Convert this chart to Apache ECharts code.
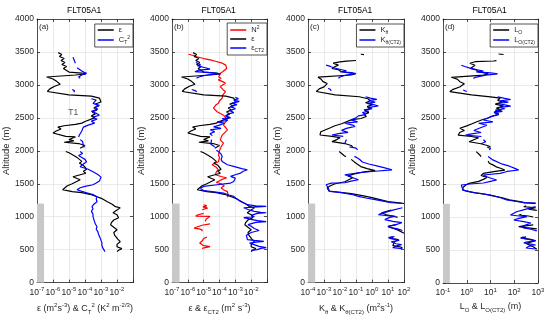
<!DOCTYPE html>
<html><head><meta charset="utf-8">
<script src="https://cdn.jsdelivr.net/npm/echarts@6/dist/echarts.min.js"></script>
<style>html,body{margin:0;padding:0;background:#fff}#c{width:550px;height:320px}</style>
</head><body><div id="c"></div>
<script>
// Profiles: [altitude (m), log10(value)]; null = gap in the trace
const epsLog = [[3490,-5.67],[3460,-5.45],[3430,-5.6],[3400,-5.3],[3370,-5.5],[3340,-5.25],[3310,-5.45],[3280,-5.15],[3250,-5.35],[3220,-5.4],[3195,-5.0],[3180,-4.2],[3165,-3.95],[3150,-4.6],[3120,-6.4],[3090,-6.0],[3050,-5.75],[3010,-5.55],[2980,-5.9],[2940,-6.2],[2900,-6.35],[2870,-6.45],[2850,-5.0],[2830,-3.6],[2800,-3.1],[2770,-3.2],[2740,-3.0],[2710,-3.35],[2680,-3.15],[2650,-3.45],[2620,-3.25],[2590,-3.55],[2560,-3.35],[2530,-3.6],[2500,-3.4],[2470,-3.5],[2445,-4.0],[2420,-4.2],[2400,-4.6],[2380,-5.3],[2360,-5.7],[2330,-5.5],[2300,-5.8],[2270,-6.0],[2240,-5.95],[2220,-5.2],[2210,-4.6],[2190,-4.8],[2170,-5.0],[2150,-4.7],[2130,-5.3],[2110,-4.4],[2080,-4.0],[2060,-3.9],[2040,-4.3],null,[1990,-5.2],[1970,-5.0],[1950,-4.9],[1930,-4.7],[1900,-4.5],[1870,-4.4],[1840,-4.2],[1810,-4.35],[1780,-4.1],[1750,-4.2],[1720,-3.9],[1690,-4.1],[1660,-3.95],[1636,-4.0],[1606,-4.75],[1580,-4.5],[1560,-4.3],[1530,-4.35],[1500,-4.8],[1470,-5.1],[1440,-5.25],[1410,-5.4],[1395,-5.37],[1380,-4.8],[1364,-4.2],[1340,-3.7],[1303,-3.25],[1270,-2.9],[1227,-2.6],[1190,-2.3],[1152,-2.1],[1136,-1.8],[1100,-2.0],[1061,-2.25],[1030,-2.0],[985,-1.9],[950,-2.2],[910,-2.35],[879,-2.4],[840,-2.2],[803,-2.0],[760,-2.2],[720,-2.15],[697,-2.1],[660,-1.95],[621,-1.8],[580,-2.0],[545,-2.0],[515,-1.7],[490,-1.9],[470,-2.0]];

const ct2Log = [[3420,-4.75],[3390,-4.7],[3360,-4.65],[3330,-4.6],null,[3260,-4.5],[3230,-4.4],[3210,-4.2],[3190,-4.05],[3175,-3.9],[3150,-4.2],[3120,-4.4],[3100,-4.3],null,[2930,-4.8],[2910,-4.65],[2890,-4.7],null,[2790,-3.6],[2770,-3.3],[2745,-3.2],[2720,-3.5],[2690,-3.1],[2660,-3.4],[2630,-3.2],[2600,-3.6],[2570,-3.3],[2540,-3.1],[2510,-3.5],[2480,-3.25],[2450,-3.6],[2420,-3.4],[2390,-3.8],[2360,-4.1],[2330,-4.0],[2300,-4.2],[2270,-4.1],[2240,-4.35],[2210,-4.4],null,[2170,-4.3],[2140,-4.15],[2110,-4.25],[2080,-4.1],[2050,-4.05],null,[1990,-4.3],[1960,-4.15],[1930,-4.4],[1900,-4.2],[1870,-4.0],[1833,-3.9],[1800,-4.1],[1758,-4.3],[1720,-3.8],[1682,-3.5],[1640,-3.2],[1600,-3.0],[1570,-2.9],[1540,-3.1],[1510,-3.3],[1485,-3.5],[1460,-4.0],[1440,-4.3],[1409,-4.5],[1385,-4.2],[1364,-3.9],[1335,-3.5],[1303,-3.25],[1270,-3.3],[1227,-3.25],[1190,-3.45],[1152,-3.56],[1120,-3.5],[1080,-3.6],[1040,-3.5],[1000,-3.5],[960,-3.45],[924,-3.4],[890,-3.35],[848,-3.25],[810,-3.3],[773,-3.2],[730,-3.15],[682,-3.06],[640,-3.0],[606,-2.94],[570,-2.95],[530,-2.9],[500,-2.85],[470,-2.75]];

const n2Log = [[3465,-5.96],[3450,-5.7],[3427,-5.43],[3400,-5.0],[3380,-4.58],[3355,-4.2],[3330,-3.83],[3300,-3.6],[3280,-3.5],[3250,-3.55],[3227,-3.6],[3200,-3.8],[3177,-3.94],[3150,-3.85],[3120,-4.05],[3100,-3.9],[3077,-4.07],[3050,-3.8],[3026,-3.62],[3000,-3.8],[2975,-3.95],[2950,-3.94],[2920,-3.75],[2900,-3.62],[2874,-3.65],[2840,-3.8],[2820,-3.9],[2798,-3.83],[2760,-4.0],[2723,-4.07],[2690,-4.25],[2647,-4.38],[2620,-4.3],[2592,-4.15],[2565,-3.95],[2540,-3.75],[2500,-3.6],[2466,-3.5],[2430,-3.65],[2390,-3.75],[2350,-3.6],[2314,-3.5],[2280,-3.65],[2238,-3.83],[2200,-3.9],[2163,-3.94],[2140,-3.85],[2117,-3.75],[2080,-3.85],[2040,-3.94],[2000,-4.0],[1970,-4.05],[1935,-4.07],[1900,-4.0],[1870,-4.1],[1833,-4.07],[1810,-4.3],[1788,-4.47],[1750,-4.2],[1712,-4.07],[1680,-4.2],[1650,-4.3],[1636,-4.26],[1610,-3.9],[1591,-3.55],[1570,-3.8],[1545,-4.0],[1520,-4.2],[1500,-3.9],[1470,-3.7],[1440,-3.9],[1410,-3.75],[1380,-3.5],[1350,-3.4],[1320,-3.45],[1295,-3.5],null,[1180,-5.0],[1165,-4.8],[1150,-5.05],[1130,-4.75],[1106,-5.1],null,[1050,-5.0],[1030,-5.35],[1010,-5.5],[1005,-4.6],[990,-4.7],[960,-4.85],[929,-4.9],null,[890,-4.6],[870,-5.1],[854,-5.1],[828,-5.6],[815,-5.3],[800,-5.1],[778,-5.1],null,[690,-4.8],[670,-5.0],[651,-4.9],[630,-5.1],[600,-5.25],[576,-5.2],[560,-5.0],[545,-4.6],[530,-4.9],[520,-5.1]];

const epsCt2Log = [[3340,-5.5],[3310,-5.2],[3290,-5.4],[3260,-4.9],[3240,-4.6],[3225,-5.3],[3200,-5.55],[3185,-4.6],[3170,-4.0],[3150,-4.8],[3120,-5.3],[3100,-5.45],null,[2930,-5.75],[2910,-5.5],[2890,-5.45],null,[2810,-3.0],[2790,-2.8],[2770,-3.1],[2750,-2.75],[2720,-3.2],[2700,-2.9],[2670,-3.3],[2640,-3.0],[2610,-3.35],[2580,-3.1],[2560,-3.45],[2530,-3.6],[2500,-3.3],[2490,-3.83],[2460,-3.5],[2440,-4.15],[2420,-3.7],[2390,-4.0],[2364,-4.37],[2340,-3.9],[2318,-4.58],[2290,-4.3],[2260,-4.6],[2230,-4.45],null,[2170,-4.5],[2140,-4.4],[2100,-4.55],[2060,-4.3],null,[2010,-4.2],[1990,-4.07],[1950,-3.9],[1914,-3.83],[1870,-3.9],[1838,-3.83],[1788,-3.5],[1760,-3.05],[1730,-2.6],[1712,-2.24],[1690,-2.5],[1662,-2.67],[1636,-3.0],[1611,-3.3],[1585,-3.0],[1561,-2.88],[1535,-3.1],[1510,-3.3],[1485,-4.15],[1460,-5.0],[1430,-5.2],[1409,-5.3],[1395,-5.0],[1384,-4.58],[1359,-3.75],[1330,-3.4],[1308,-3.1],[1270,-2.9],[1232,-2.67],[1200,-2.4],[1182,-2.24],[1165,-1.72],[1158,-1.05],[1150,-1.6],[1136,-2.47],[1110,-2.2],[1080,-1.8],[1065,-1.4],[1060,-1.05],[1050,-1.6],[1020,-2.0],[1000,-1.8],[985,-2.47],[960,-2.0],[940,-1.6],[925,-1.05],[915,-1.7],[880,-2.2],[854,-2.0],[820,-1.8],[790,-1.5],[778,-1.5],[760,-2.0],[720,-2.3],[690,-2.2],[651,-2.24],[640,-1.8],[626,-1.2],[615,-1.7],[600,-2.1],[576,-2.0],[550,-1.5],[530,-1.05],[520,-1.4],[500,-1.6],[490,-2.0]];

const kLog = [[3465,-0.7],[3460,-0.5],null,[3370,-1.0],[3360,-1.6],[3350,-2.0],[3330,-2.43],[3300,-2.1],[3280,-2.3],[3250,-2.5],[3230,-2.1],[3200,-1.92],[3180,-1.3],[3167,-1.06],[3150,-1.3],[3117,-3.37],[3090,-3.2],[3050,-3.06],[3020,-2.8],[3000,-2.74],[2970,-3.0],[2940,-3.3],[2900,-3.48],[2870,-3.5],[2850,-2.3],[2820,-0.8],[2790,-0.25],[2760,-0.1],[2730,-0.4],[2700,0.05],[2670,-0.3],[2640,-0.1],[2610,-0.45],[2580,-0.2],[2550,-0.5],[2520,-0.35],[2490,-0.7],[2470,-1.3],[2440,-1.6],[2410,-1.9],[2380,-2.32],[2350,-2.6],[2320,-2.9],[2290,-3.2],[2260,-3.1],[2240,-3.25],[2220,-2.5],[2200,-2.0],[2170,-2.2],[2140,-2.5],[2110,-1.7],[2080,-1.3],[2060,-1.2],null,[1990,-2.05],[1960,-1.9],[1930,-1.75],[1910,-1.63],null,[1870,-1.3],[1840,-1.2],[1810,-1.0],[1790,-0.9],[1760,-0.7],[1730,-0.3],[1700,0.2],[1680,-0.5],[1650,-1.1],[1620,-1.5],[1590,-1.2],[1560,-1.3],[1530,-1.7],[1500,-2.3],[1470,-2.6],[1440,-2.8],[1410,-2.9],[1390,-2.7],[1370,-2.0],[1350,-1.3],[1320,-0.6],[1290,0.0],[1260,0.5],[1230,1.0],[1210,1.7],[1200,2.0],null,[1100,1.2],[1060,0.6],[1030,0.9],[1010,1.3],[990,1.6],null,[880,1.5],[850,1.0],[833,1.2],[800,1.6],[773,1.53],[750,2.0],null,[700,1.4],[670,1.1],[651,1.66],[620,1.4],[590,1.5],[560,1.3],[540,1.8],[525,1.9]];

const kCt2Log = [[3300,-2.87],[3280,-2.6],[3260,-2.4],[3250,-2.32],[3230,-1.9],[3212,-1.6],[3200,-2.0],[3185,-1.3],[3170,-1.0],[3150,-1.6],[3120,-2.0],[3100,-2.1],null,[2950,-2.74],[2930,-2.6],[2910,-2.55],null,[2820,-0.4],[2800,-0.1],[2780,0.3],[2760,-0.2],[2740,0.2],[2720,-0.3],[2700,0.1],[2680,0.4],[2660,-0.2],[2640,0.0],[2620,-0.5],[2600,-0.2],[2580,-0.6],[2550,-0.4],[2530,-0.85],[2500,-1.0],[2470,-1.3],[2440,-0.9],[2420,-1.7],[2390,-1.2],[2370,-1.06],[2340,-1.6],[2310,-1.9],[2280,-1.5],[2260,-2.1],[2240,-2.5],[2220,-1.8],null,[2170,-1.6],[2140,-1.5],[2110,-1.7],null,[2060,-1.4],[2040,-1.0],[2015,-0.9],null,[1915,-1.1],[1890,-0.9],[1865,-0.75],[1830,-0.6],[1800,-0.2],[1770,0.3],[1740,0.8],[1712,1.25],[1690,0.2],[1667,-0.85],[1636,-1.7],[1610,-1.4],[1591,-1.3],[1561,-0.85],[1540,-1.3],[1515,-1.7],[1510,-2.55],[1485,-2.87],[1460,-2.8],[1440,-2.74],[1410,-2.7],[1384,-2.65],[1364,-1.9],[1340,-1.3],[1308,-0.85],[1280,-0.3],[1258,0.2],[1235,0.7],[1212,1.2],[1205,1.85],null,[1136,1.9],[1100,1.3],[1050,0.6],[1030,0.4],[1015,1.0],[1005,1.45],[990,1.1],[955,0.8],[930,1.3],[909,1.87],[880,1.5],[855,1.0],[833,1.2],[815,1.6],[790,1.9],null,[700,1.3],[682,1.03],[660,1.4],[640,1.7],[620,1.2],[606,1.1],[590,1.5],[576,1.85],[555,1.5],[530,1.3],[515,1.9]];

const loLog = [[3470,1.34],[3462,1.55],null,[3370,1.25],[3364,1.13],[3353,0.35],[3330,0.13],[3300,0.35],[3280,0.28],[3250,0.15],[3230,0.4],[3200,0.49],[3180,0.8],[3167,0.91],[3150,0.7],[3117,-0.65],[3090,-0.4],[3050,-0.29],[3020,-0.1],[3000,-0.08],[2970,-0.3],[2930,-0.6],[2900,-0.71],[2870,-0.7],[2850,0.2],[2820,1.0],[2800,1.41],[2770,1.3],[2740,1.5],[2710,1.2],[2680,1.55],[2650,1.25],[2620,1.45],[2590,1.15],[2560,1.35],[2530,1.1],[2500,0.9],[2470,0.62],[2440,0.4],[2410,0.2],[2380,0.0],[2345,-0.29],[2310,-0.1],[2280,-0.3],[2240,-0.36],[2220,0.2],[2200,0.5],[2170,0.3],[2140,0.1],[2110,0.6],[2080,0.9],[2060,1.0],null,[1990,0.4],[1965,0.45],[1940,0.55],[1915,0.6],null,[1850,0.9],[1815,0.95],[1790,1.1],[1760,1.24],[1735,1.45],[1710,1.6],[1690,1.2],[1660,0.7],[1630,0.6],[1600,0.85],[1570,0.7],[1540,0.5],[1510,0.1],[1480,-0.05],[1450,-0.15],[1410,-0.18],[1395,-0.05],[1370,0.3],[1350,0.7],[1320,1.1],[1290,1.5],[1260,1.8],[1230,2.3],[1215,2.45],[1205,2.9],null,[1170,2.5],[1156,2.4],[1140,2.9],[1120,2.6],[1100,2.95],null,[1040,2.3],[1030,2.19],[1015,2.6],[1000,2.8],null,[880,2.8],[854,2.19],[840,2.5],[820,2.95],null,[700,2.5],[680,2.3],[660,2.7],[640,2.9],[600,2.5],[576,2.5],[550,2.8],[525,2.75],[510,2.95]];

const loCt2Log = [[3300,-0.23],[3280,-0.08],[3255,0.13],[3230,0.45],[3212,0.7],[3200,0.4],[3185,1.0],[3170,1.3],[3150,0.8],[3120,0.4],[3100,0.28],null,[2925,-0.15],[2910,-0.05],[2900,0.0],null,[2820,1.3],[2800,1.55],[2780,1.85],[2760,1.4],[2740,1.75],[2720,1.3],[2700,1.6],[2680,1.85],[2660,1.4],[2640,1.6],[2620,1.2],[2600,1.5],[2580,1.15],[2550,1.35],[2520,1.0],[2500,1.05],[2470,0.7],[2440,1.1],[2420,0.5],[2390,0.85],[2370,0.91],[2340,0.5],[2310,0.3],[2280,0.6],[2260,0.2],[2240,-0.05],[2220,0.62],null,[2170,0.7],[2140,0.8],[2110,0.6],null,[2060,0.85],[2040,1.0],[2015,0.95],null,[1915,0.9],[1890,1.0],[1865,1.1],[1840,1.17],[1800,1.5],[1770,1.8],[1740,2.0],[1712,2.19],[1690,1.7],[1662,1.41],[1636,0.7],[1610,0.85],[1591,0.99],[1561,1.26],[1540,1.0],[1515,0.7],[1500,0.13],[1485,-0.23],[1450,-0.2],[1409,-0.15],[1385,0.1],[1364,0.4],[1333,1.0],[1295,1.4],[1258,1.68],[1235,2.1],[1217,2.4],[1212,2.9],null,[1156,2.9],[1120,2.5],[1080,2.1],[1030,1.84],[1015,2.2],[1005,2.53],[980,2.2],[955,1.98],[930,2.4],[909,2.7],[880,2.5],[855,2.3],[833,2.4],[815,2.7],[790,2.95],null,[700,2.4],[682,2.26],[660,2.6],[640,2.9],[620,2.5],[606,2.4],[590,2.7],[576,2.9],[555,2.6],[530,2.5],[515,2.9]];

// axis ranges (log10 decades) and annotations
const xRangesLog = [[-7,-1],[-7,-1],[-4,2],[-1,3]];
const altRange = [0, 4000];
const altTicks = 500;
const shadeAlt = [0, 1200];
const shadeXLog = [[-7,-6.56],[-7,-6.52],[-4,-3.55],[-1,-0.71]];
const t1Label = [[2580,-4.73]];
const panelTitles = ['FLT05A1','FLT05A1','FLT05A1','FLT05A1'];
const panelTags = ['(a)','(b)','(c)','(d)'];

const AX = '#262626', GRIDC = '#e4e4e4';
const P = v => Math.pow(10, v);
const pts = arr => arr.map(p => p ? [P(p[1]), p[0]] : ['-','-']);

const gridsPx = [{left:37,width:96},{left:172,width:95},{left:308,width:96},{left:443,width:95}];
const axisNames = [
 '{n|ε (m}{p|2}{n|s}{p|-3}{n|) & C}{b|T}{p|2}{n| (K}{p|2}{n| m}{p|-2/3}{n|)}',
 '{n|ε & ε}{b|CT2}{n| (m}{p|2}{n| s}{p|-3}{n|)}',
 '{n|K}{b|θ}{n| & K}{b|θ(CT2)}{n| (m}{p|2}{n|s}{p|-1}{n|)}',
 '{n|L}{b|O}{n| & L}{b|O(CT2)}{n| (m)}'
];
const LEG = {
 'ε':'{n|ε}', 'C_T²':'{n|C}{b|T}{p|2}', 'N²':'{n|N}{p|2}', 'ε_CT2':'{n|ε}{b|CT2}',
 'K_θ':'{n|K}{b|θ}', 'K_θ(CT2)':'{n|K}{b|θ(CT2)}', 'L_O':'{n|L}{b|O}', 'L_O(CT2)':'{n|L}{b|O(CT2)}'
};
const hideLast = [true,true,false,false];

const xAxis = [], yAxis = [], grid = [], title = [];
gridsPx.forEach((g,i) => {
  grid.push({left:g.left, top:19, width:g.width, height:264});
  const [a,b] = xRangesLog[i];
  xAxis.push({
    type:'log', logBase:10, gridIndex:i, min:P(a), max:P(b), splitNumber:b-a, position:'bottom',
    axisLine:{show:true, onZero:false, lineStyle:{color:AX,width:0.8}},
    axisTick:{show:true, inside:true, length:3, lineStyle:{color:AX,width:0.8}},
    axisLabel:{margin:4, color:AX, showMinLabel:true, showMaxLabel:true,
      formatter: v => { const e = Math.round(Math.log10(v)); if (hideLast[i] && e === b) return ''; return '{b|10}{s|' + e + '}'; },
      rich:{b:{fontSize:8.5, color:AX, lineHeight:12, fontFamily:'Liberation Sans'}, s:{fontSize:6, color:AX, verticalAlign:'top', fontFamily:'Liberation Sans'}}},
    splitLine:{show:true, lineStyle:{color:GRIDC,width:0.8}},
    name:axisNames[i], nameLocation:'middle', nameGap:17,
    nameTextStyle:{color:AX, rich:{n:{fontSize:9, lineHeight:13, color:AX, fontFamily:'Liberation Sans'}, p:{fontSize:6, color:AX, verticalAlign:'top', fontFamily:'Liberation Sans'}, b:{fontSize:6, color:AX, verticalAlign:'bottom', fontFamily:'Liberation Sans'}}}
  });
  xAxis.push({
    type:'log', logBase:10, gridIndex:i, min:P(a), max:P(b), splitNumber:b-a, position:'top',
    axisLine:{show:true, onZero:false, lineStyle:{color:AX,width:0.8}},
    axisTick:{show:true, inside:true, length:3, lineStyle:{color:AX,width:0.8}},
    axisLabel:{show:false}, splitLine:{show:false}
  });
  yAxis.push({
    type:'value', gridIndex:i, min:altRange[0], max:altRange[1], interval:altTicks, position:'left',
    axisLine:{show:true, onZero:false, lineStyle:{color:AX,width:0.8}},
    axisTick:{show:true, inside:true, length:3, lineStyle:{color:AX,width:0.8}},
    axisLabel:{fontSize:8.5, color:AX, margin:3, fontFamily:'Liberation Sans', formatter: v => String(v)},
    splitLine:{show:true, lineStyle:{color:GRIDC,width:0.8}},
    name:'Altitude (m)', nameLocation:'middle', nameGap:21,
    nameTextStyle:{fontSize:9.5, color:AX, fontFamily:'Liberation Sans'}
  });
  yAxis.push({
    type:'value', gridIndex:i, min:altRange[0], max:altRange[1], interval:altTicks, position:'right',
    axisLine:{show:true, onZero:false, lineStyle:{color:AX,width:0.8}},
    axisTick:{show:true, inside:true, length:3, lineStyle:{color:AX,width:0.8}},
    axisLabel:{show:false}, splitLine:{show:false}
  });
  title.push({text:panelTitles[i], left:g.left + g.width/2 - 18, top:6, padding:0,
    textStyle:{fontSize:8.5, fontWeight:'normal', color:'#000', fontFamily:'Liberation Sans'}});
  title.push({text:panelTags[i], left:g.left + 2, top:23, padding:0,
    textStyle:{fontSize:8, fontWeight:'normal', color:AX, fontFamily:'Liberation Sans'}});
});

function line(name, data, i, color, shade) {
  const s = {name, type:'line', xAxisIndex:2*i, yAxisIndex:2*i, data:pts(data), showSymbol:false, symbol:'none',
    connectNulls:false, lineStyle:{color, width:1.2}, itemStyle:{color}, z:3};
  if (shade) {
    s.markArea = {silent:true, itemStyle:{color:'#c8c8c8'},
      data:[[{coord:[P(shadeXLog[i][0]), shadeAlt[0]]},{coord:[P(shadeXLog[i][1]), shadeAlt[1]]}]]};
  }
  return s;
}

const series = [
  line('ε', epsLog, 0, '#000000', true),
  line('C_T²', ct2Log, 0, '#0000ff'),
  line('N²', n2Log, 1, '#ff0000', true),
  line('ε', epsLog, 1, '#000000'),
  line('ε_CT2', epsCt2Log, 1, '#0000ff'),
  line('K_θ', kLog, 2, '#000000', true),
  line('K_θ(CT2)', kCt2Log, 2, '#0000ff'),
  line('L_O', loLog, 3, '#000000', true),
  line('L_O(CT2)', loCt2Log, 3, '#0000ff'),
  {type:'scatter', xAxisIndex:0, yAxisIndex:0, data:pts(t1Label), symbolSize:1, itemStyle:{color:'transparent'},
   label:{show:true, position:'inside', formatter:'T1', fontSize:8.5, color:AX, fontFamily:'Liberation Sans'}, z:5, silent:true}
];

function legend(names, right, top) {
  return {data:names, orient:'vertical', right, top, icon:'rect', itemWidth:16, itemHeight:1.5, itemGap:1,
    padding:[2,3,2,3], borderColor:AX, borderWidth:0.8, backgroundColor:'#fff', selectedMode:false,
    formatter: n => LEG[n],
    textStyle:{color:AX, fontSize:7, rich:{n:{fontSize:7.5, lineHeight:10, color:AX, fontFamily:'Liberation Sans'}, p:{fontSize:5, color:AX, verticalAlign:'top'}, b:{fontSize:5, color:AX, verticalAlign:'bottom'}}}};
}
const legendList = [
  legend(['ε','C_T²'], 417, 24),
  legend(['N²','ε','ε_CT2'], 283, 23),
  legend(['K_θ','K_θ(CT2)'], 146, 24),
  legend(['L_O','L_O(CT2)'], 12, 24)
];

const chart = echarts.init(document.getElementById('c'), null, {renderer:'canvas'});
chart.setOption({animation:false, backgroundColor:'#fff', textStyle:{fontFamily:'Liberation Sans'},
  title, grid, xAxis, yAxis, legend:legendList, series});
</script></body></html>
